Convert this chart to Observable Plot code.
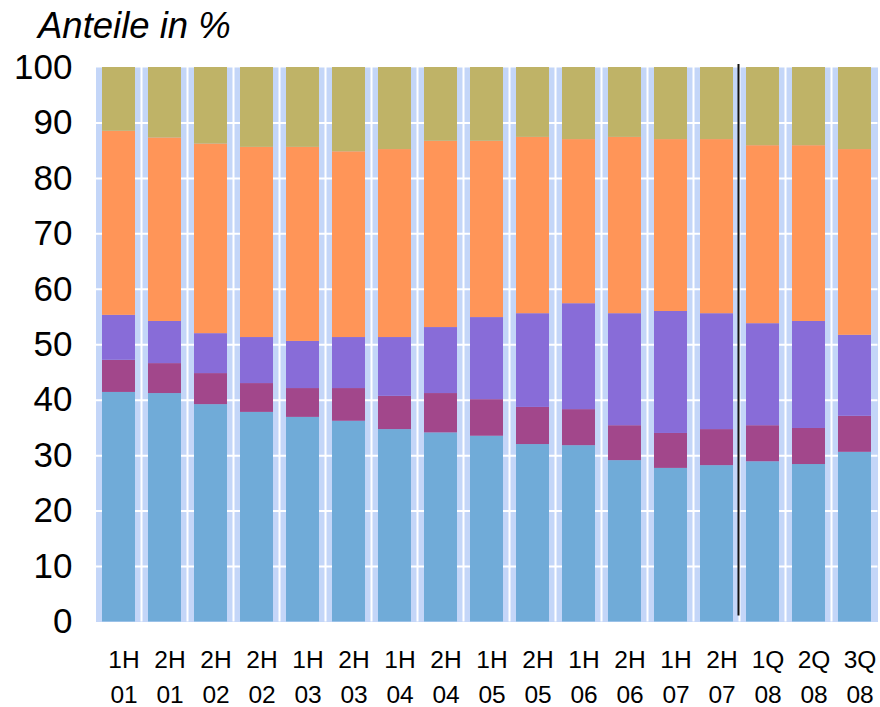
<!DOCTYPE html>
<html><head><meta charset="utf-8">
<script src="https://cdn.jsdelivr.net/npm/d3@7"></script>
<script src="https://cdn.jsdelivr.net/npm/@observablehq/plot@0.6"></script>
<style>
body{margin:0;background:#fff;font-family:"Liberation Sans",Arial,sans-serif;}
#title{position:relative;height:50px;}
#title span{position:absolute;left:38px;top:5px;font-style:italic;font-size:36.5px;line-height:42px;color:#000;}
#chart svg{display:block;overflow:visible;}
</style></head><body>
<div id="title"><span>Anteile in %</span></div>
<div id="chart"></div>
<script>
const periods = ["1H 01","2H 01","2H 02","2H 02","1H 03","2H 03","1H 04","2H 04","1H 05","2H 05","1H 06","2H 06","1H 07","2H 07","1Q 08","2Q 08","3Q 08"];
const seriesNames = ["Serie 1","Serie 2","Serie 3","Serie 4","Serie 5"];
const seriesColors = ["#70abd8","#a2478b","#886cd8","#ff9558","#bfb367"];
const serie1 = [41.4,41.2,39.2,37.8,36.9,36.2,34.7,34.1,33.5,32.0,31.8,29.1,27.7,28.2,28.9,28.4,30.6];
const serie2 = [5.8,5.4,5.6,5.2,5.2,5.9,6.0,7.1,6.6,6.7,6.5,6.3,6.3,6.5,6.5,6.5,6.5];
const serie3 = [8.1,7.6,7.2,8.3,8.5,9.2,10.6,11.9,14.8,16.9,19.1,20.2,22.0,20.9,18.4,19.3,14.6];
const serie4 = [33.2,33.1,34.2,34.3,35.0,33.5,33.9,33.6,31.8,31.8,29.6,31.8,31.0,31.4,32.1,31.7,33.5];
const serie5 = [11.5,12.7,13.8,14.4,14.4,15.2,14.8,13.3,13.3,12.6,13.0,12.6,13.0,13.0,14.1,14.1,14.8];
const yTicks = [0,10,20,30,40,50,60,70,80,90,100];
const gridValues = [10,20,30,40,50,60,70,80,90];
const dividerBefore = 14; // index of "1Q 08"

const seriesValues = [serie1, serie2, serie3, serie4, serie5];
const ids = d3.range(periods.length);
const table = [];
ids.forEach(i => seriesValues.forEach((vals, s) => table.push({i, series: seriesNames[s], value: vals[i]})));

function gapLines(index, scales) {
  const x = scales.x, y = scales.y;
  const half = (x.step() - x.bandwidth()) / 2;
  const g = d3.create("svg:g");
  ids.slice(1).forEach(i => {
    const xx = x(i) - half;
    g.append("line").attr("x1", xx).attr("x2", xx).attr("y1", y(100)).attr("y2", y(0))
      .attr("stroke", "white").attr("stroke-width", 2);
  });
  return g.node();
}
function divider(index, scales) {
  const x = scales.x, y = scales.y;
  const half = (x.step() - x.bandwidth()) / 2;
  const xx = x(dividerBefore) - half - 1;
  return d3.create("svg:line").attr("x1", xx).attr("x2", xx)
    .attr("y1", y(100) - 3).attr("y2", y(0) - 6)
    .attr("stroke", "#111").attr("stroke-width", 2).node();
}

const chart = Plot.plot({
  width: 880,
  height: 657,
  marginTop: 17,
  marginBottom: 85.5,
  marginLeft: 95.5,
  marginRight: 2.5,
  style: {fontFamily: "'Liberation Sans', Arial, sans-serif", color: "#000", background: "white", overflow: "visible"},
  x: {domain: ids, paddingInner: 0.283, paddingOuter: 0.1415, axis: null},
  y: {domain: [0, 100], axis: null},
  color: {domain: seriesNames, range: seriesColors},
  marks: [
    Plot.frame({fill: "#c4d6f8", stroke: null}),
    Plot.ruleY(gridValues, {stroke: "white", strokeWidth: 2}),
    gapLines,
    Plot.barY(table, {x: "i", y: "value", fill: "series", order: seriesNames}),
    divider,
    Plot.axisY({ticks: yTicks, tickSize: 0, tickPadding: 23.5, fontSize: 35, label: null, tickFormat: d => String(d)}),
    Plot.axisX({ticks: ids, tickSize: 0, tickPadding: 20.5, fontSize: 24.5, lineHeight: 1.45, dx: 5, label: null,
      tickFormat: i => periods[i].replace(" ", "\n")})
  ]
});
document.getElementById("chart").appendChild(chart);
</script>
</body></html>
